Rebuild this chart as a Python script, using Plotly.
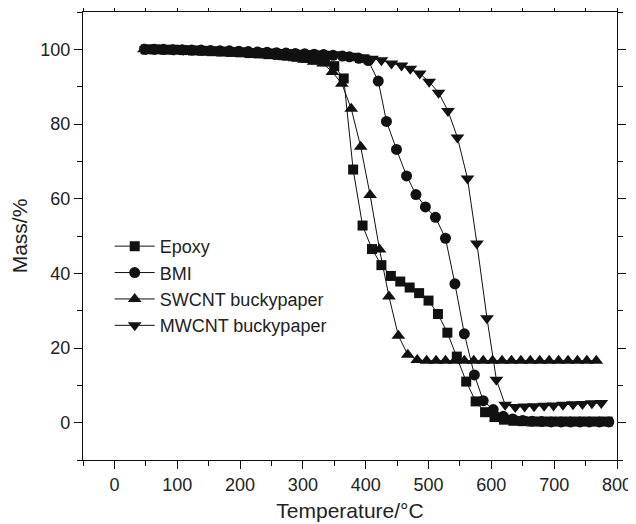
import plotly.graph_objects as go

# ---- data ----
epoxy_T = [50, 65, 80, 95, 110, 125, 140, 155, 170, 185, 200, 215, 230, 245, 260, 275, 290, 305, 320, 335,
           350, 365, 380, 395, 410, 425, 440, 455, 470, 485, 500, 515, 530, 545, 560, 575, 590, 605, 620, 635,
           650, 665, 680, 695, 710, 725, 740, 755, 770, 785]
epoxy_m = [100.0, 100.0, 99.9, 99.9, 99.8, 99.7, 99.6, 99.5, 99.4, 99.3, 99.2, 99.0, 98.9, 98.7, 98.5, 98.3, 98.0, 97.7, 97.3, 96.8,
           95.5, 92.2, 67.8, 52.8, 46.5, 42.2, 39.3, 37.8, 36.2, 34.7, 32.7, 29.1, 24.1, 17.7, 11.0, 5.7, 2.8, 1.5, 0.8, 0.5,
           0.4, 0.3, 0.3, 0.3, 0.3, 0.3, 0.3, 0.3, 0.3, 0.3]

bmi_T = [48, 63, 78, 93, 108, 123, 138, 153, 168, 183, 198, 213, 228, 243, 258, 273, 288, 303, 318, 333,
         348, 363, 374, 389, 404, 420, 433, 449, 465, 480, 495, 511, 527, 542, 557, 573, 587, 603, 619, 634,
         650, 665, 680, 695, 711, 726, 741, 756, 772, 787]
bmi_m = [100.0, 100.0, 100.0, 99.9, 99.9, 99.8, 99.8, 99.7, 99.6, 99.6, 99.5, 99.4, 99.3, 99.2, 99.1, 99.0, 98.9, 98.8, 98.7, 98.6,
         98.4, 98.2, 98.0, 97.6, 97.0, 91.5, 80.7, 73.2, 66.1, 61.1, 57.8, 55.0, 49.4, 37.2, 23.8, 12.8, 5.9, 3.5, 1.7, 1.0,
         0.6, 0.4, 0.3, 0.2, 0.2, 0.2, 0.2, 0.2, 0.2, 0.2]

swcnt_T = [47, 62, 77, 92, 107, 122, 137, 152, 167, 182, 197, 212, 227, 242, 257, 272, 287, 302, 317, 332,
           347, 362, 377, 392, 407, 422, 437, 452, 467, 482, 497, 512, 527, 542, 557, 572, 587, 602, 617, 632,
           647, 662, 677, 692, 707, 722, 737, 752, 767]
swcnt_m = [100.0, 99.9, 99.9, 99.8, 99.7, 99.6, 99.5, 99.4, 99.3, 99.1, 99.0, 98.8, 98.6, 98.4, 98.2, 97.9, 97.6, 97.2, 96.7, 96.2,
           93.9, 90.8, 84.1, 73.9, 61.0, 46.4, 33.8, 23.3, 18.2, 16.8, 16.6, 16.6, 16.6, 16.6, 16.6, 16.6, 16.6, 16.6, 16.6, 16.6,
           16.6, 16.6, 16.6, 16.6, 16.6, 16.6, 16.6, 16.6, 16.6]

mwcnt_T = [50, 65, 80, 95, 110, 125, 140, 155, 170, 185, 200, 215, 230, 245, 260, 275, 290, 305, 320, 335,
           350, 365, 380, 395, 410, 425, 441, 457, 471, 486, 501, 516, 531, 546, 562, 577, 593, 608, 622, 638,
           653, 668, 684, 699, 714, 730, 745, 760, 775]
mwcnt_m = [100.0, 100.0, 100.0, 99.9, 99.9, 99.9, 99.8, 99.8, 99.7, 99.7, 99.6, 99.5, 99.5, 99.4, 99.3, 99.2, 99.1, 99.0, 98.9, 98.8,
           98.7, 98.5, 98.3, 97.9, 97.5, 97.1, 96.2, 95.7, 94.8, 93.5, 91.3, 88.4, 83.5, 76.4, 65.4, 48.0, 28.0, 11.5, 4.8, 4.2,
           4.3, 4.4, 4.5, 4.6, 4.8, 4.9, 5.0, 5.2, 5.3]

x_ticks = [0, 100, 200, 300, 400, 500, 600, 700, 800]
y_ticks = [0, 20, 40, 60, 80, 100]

series = [
    ("Epoxy", epoxy_T, epoxy_m, "square", 10),
    ("BMI", bmi_T, bmi_m, "circle", 11),
    ("SWCNT buckypaper", swcnt_T, swcnt_m, "triangle-up", 12),
    ("MWCNT buckypaper", mwcnt_T, mwcnt_m, "triangle-down", 12),
]

fig = go.Figure()
for name, xs, ys, sym, sz in series:
    fig.add_trace(go.Scatter(
        x=xs, y=ys, name=name, mode="lines+markers",
        line=dict(color="#111111", width=1),
        marker=dict(symbol=sym, size=sz, color="#111111", line=dict(width=0)),
    ))

font_family = "Liberation Sans, Arial, sans-serif"
axis_common = dict(
    showgrid=False, zeroline=False, showline=True, linecolor="#111111", linewidth=1.2,
    mirror="allticks", ticks="outside", ticklen=8, tickwidth=1.2, tickcolor="#111111",
    tickfont=dict(family=font_family, size=18, color="#222222"),
    automargin=False,
)
fig.update_xaxes(
    range=[-50, 800], tickvals=x_ticks,
    minor=dict(ticks="outside", dtick=50, tick0=0, ticklen=5, tickcolor="#111111", tickwidth=1),
    title=dict(text="Temperature/°C", font=dict(family=font_family, size=21, color="#222222"), standoff=9),
    **axis_common,
)
fig.update_yaxes(
    range=[-10, 110], tickvals=y_ticks,
    minor=dict(ticks="outside", dtick=10, tick0=0, ticklen=5, tickcolor="#111111", tickwidth=1),
    title=dict(text="Mass/%", font=dict(family=font_family, size=21, color="#222222"), standoff=7),
    **axis_common,
)
fig.update_layout(
    template="none",
    width=636, height=524,
    margin=dict(l=75, r=27, t=4, b=72),
    plot_bgcolor="white", paper_bgcolor="white",
    legend=dict(
        x=0.05, y=0.518, xanchor="left", yanchor="top",
        font=dict(family=font_family, size=18, color="#222222"),
        bgcolor="rgba(0,0,0,0)", itemwidth=40, tracegroupgap=0,
    ),
    showlegend=True,
)
fig.write_html("out.html")
